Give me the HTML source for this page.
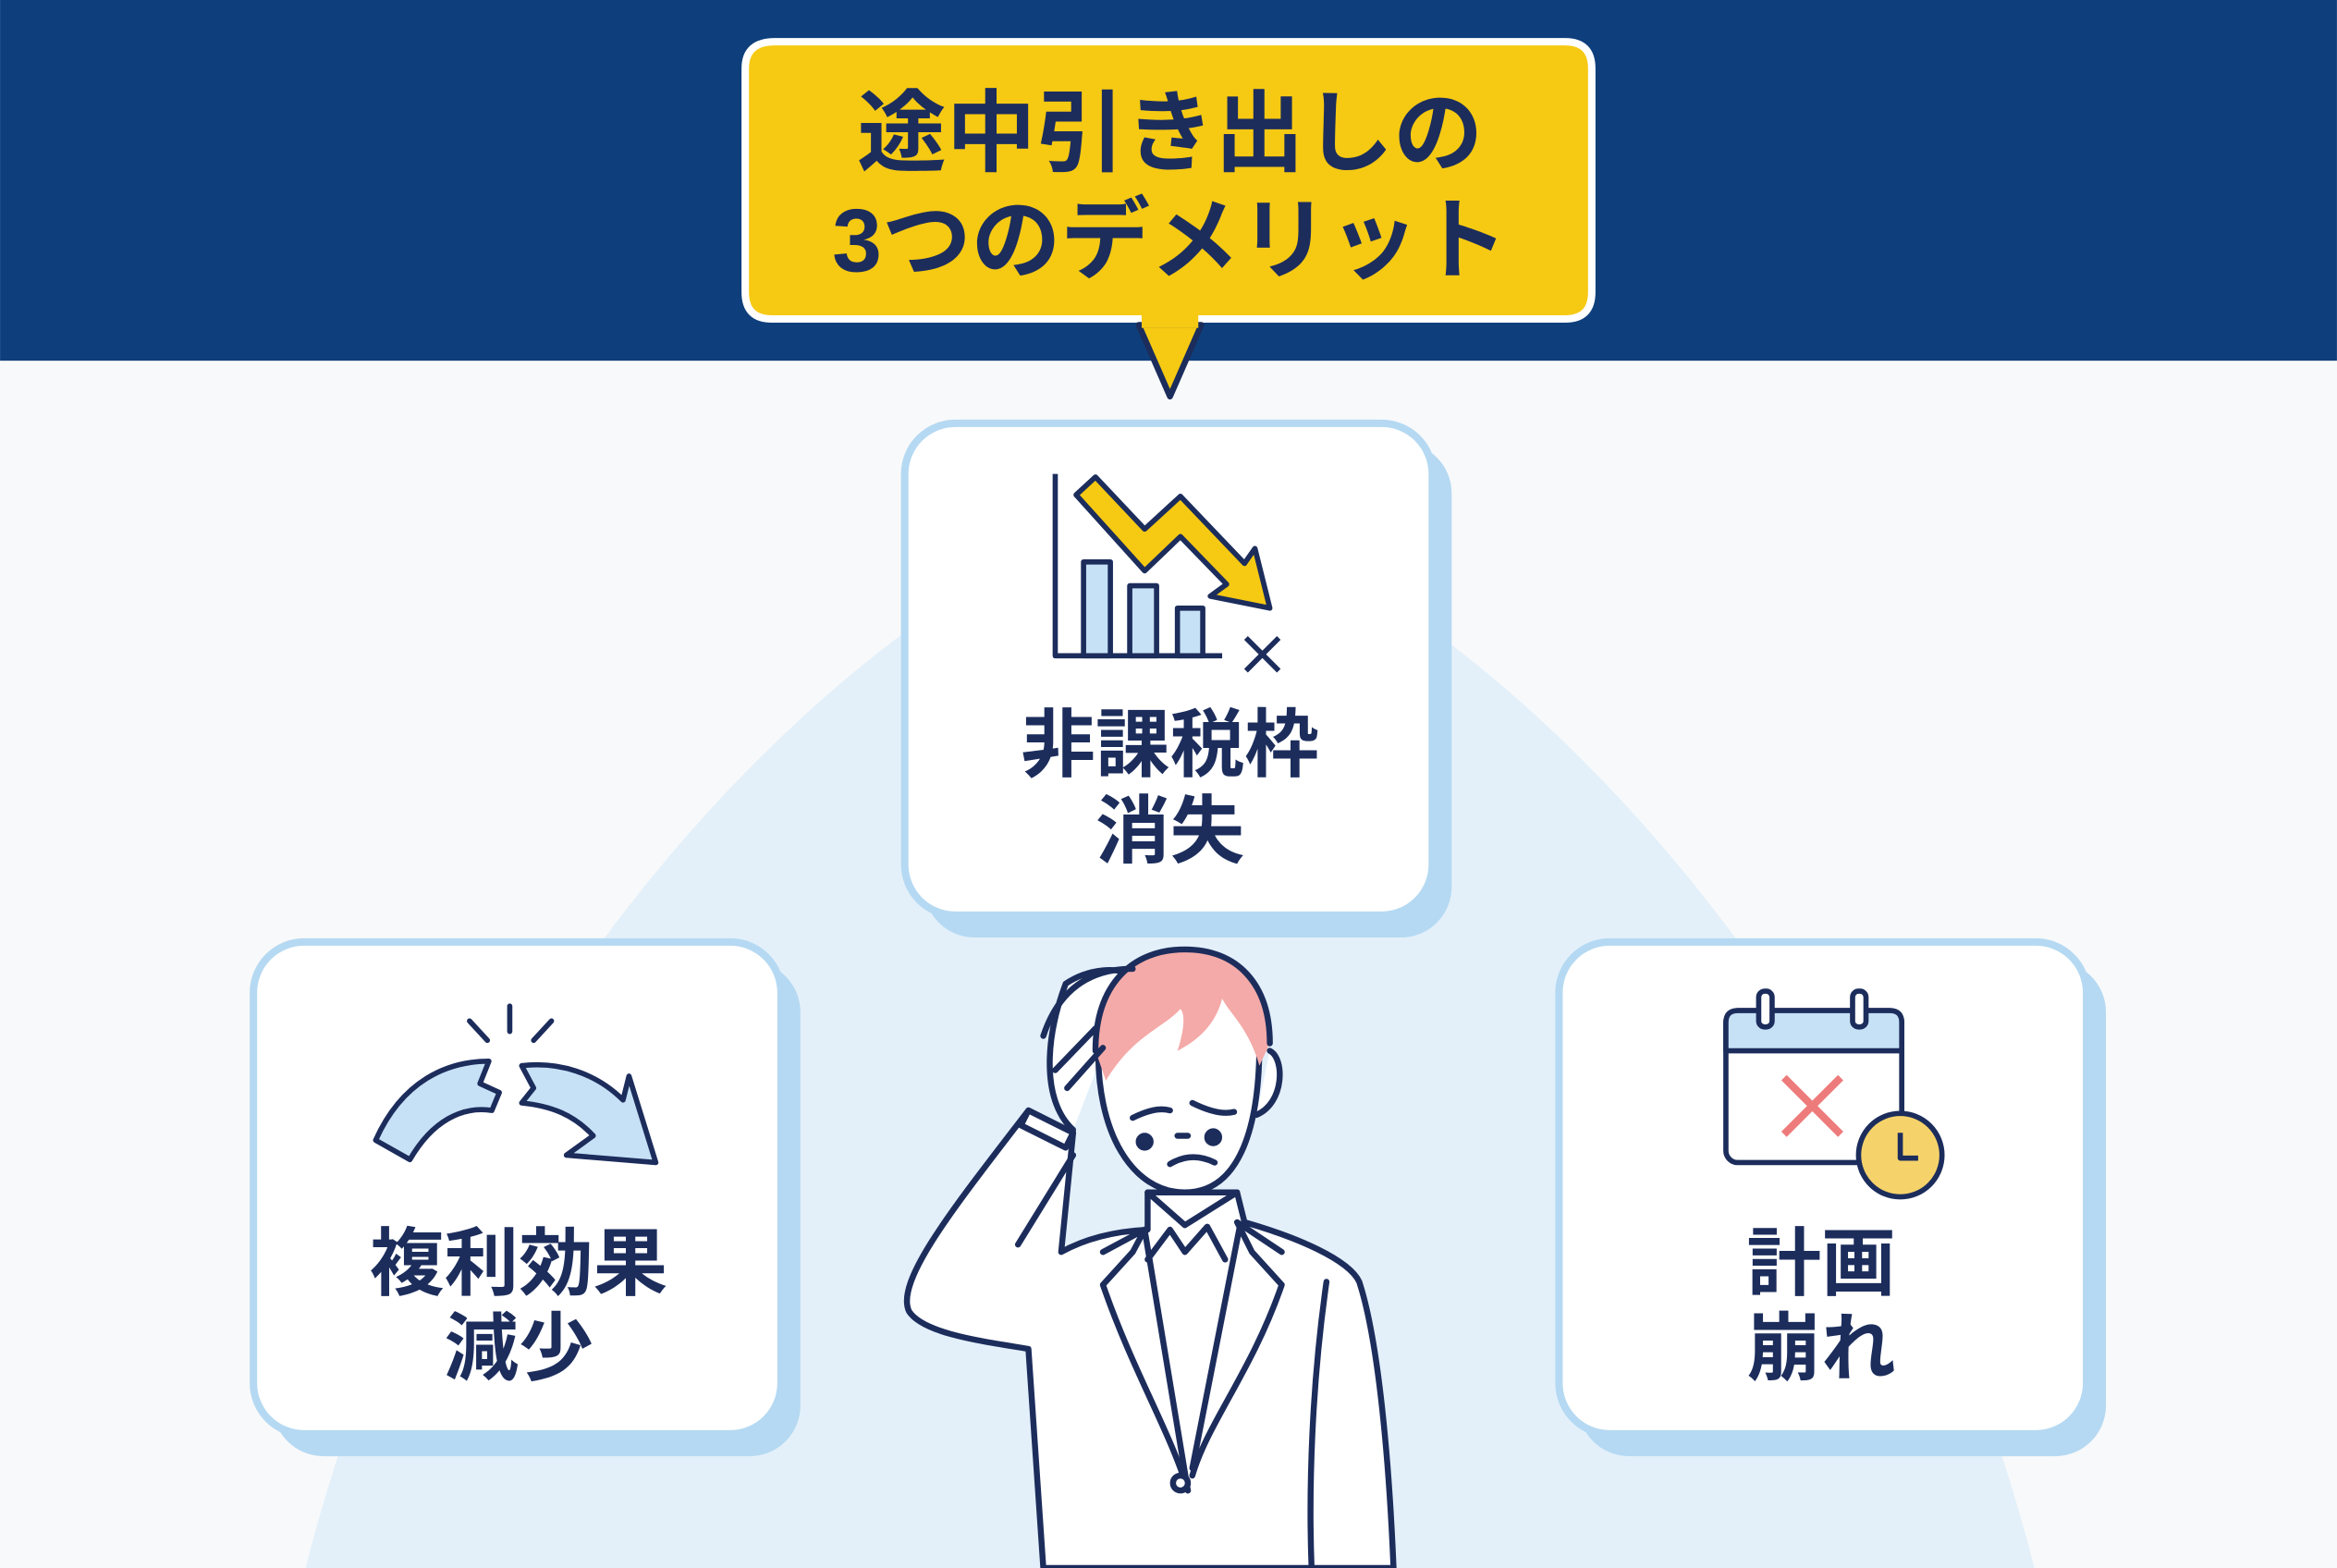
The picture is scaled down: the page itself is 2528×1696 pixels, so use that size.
<!DOCTYPE html>
<html><head><meta charset="utf-8"><style>
html,body{margin:0;padding:0;background:#f8f9fa;}
svg{display:block;}
text{font-family:"Liberation Sans","Noto Sans CJK JP",sans-serif;font-weight:bold;fill:#1c2d5c;text-anchor:middle;}
</style></head><body>
<svg width="2528" height="1696" viewBox="0 0 1568 1052" xmlns="http://www.w3.org/2000/svg">
<rect width="1568" height="1052" fill="#f8f9fa"/>
<path d="M205 1052 C 300 680, 560 400, 785 330 C 1010 400, 1270 680, 1365 1052 Z" fill="#e3f0fa"/>
<rect width="1568" height="242" fill="#0e3f7c"/>
<!-- callout -->
<path d="M520 28 H1050 Q1068 28 1068 46 V196 Q1068 214 1050 214 H805 L785 242 L765 214 H518 Q500 214 500 196 V46 Q500 28 520 28Z" fill="#f6c913" stroke="#ffffff" stroke-width="5"/>
<path d="M764 218 L785 266 L806 218 Z" fill="#f6c913" stroke="#1c2d5c" stroke-width="4" stroke-linejoin="round"/>
<rect x="766" y="208" width="38" height="12" fill="#f6c913"/>
<text x="785" y="110" font-size="60">途中引き出しの</text>
<text x="785" y="182" font-size="60">3つのデメリット</text>
<!-- cards -->
<g>
<rect x="620" y="297" width="354" height="332" rx="34" fill="#b5d9f2"/>
<rect x="607" y="284" width="354" height="330" rx="34" fill="#fff" stroke="#b5d9f2" stroke-width="5"/>
<rect x="183" y="645" width="354" height="332" rx="34" fill="#b5d9f2"/>
<rect x="170" y="632" width="354" height="330" rx="34" fill="#fff" stroke="#b5d9f2" stroke-width="5"/>
<rect x="1059" y="645" width="354" height="332" rx="34" fill="#b5d9f2"/>
<rect x="1046" y="632" width="354" height="330" rx="34" fill="#fff" stroke="#b5d9f2" stroke-width="5"/>
</g>
<text x="785" y="517" font-size="50">非課税枠</text>
<text x="785" y="575" font-size="50">消失</text>
<text x="348" y="865" font-size="50">複利効果</text>
<text x="348" y="922" font-size="50">減少</text>
<text x="1222" y="865" font-size="50">計画</text>
<text x="1222" y="922" font-size="50">崩れ</text>
<!-- top icon -->
<g stroke="#1c2d5c" stroke-width="3.5" fill="#c6e1f6" stroke-linejoin="round">
<path d="M708 318 V440 H820" fill="none"/>
<rect x="727" y="377" width="18" height="63"/>
<rect x="758" y="393" width="18" height="47"/>
<rect x="790" y="408" width="17" height="32"/>
<path d="M836 428 L858 450 M858 428 L836 450" fill="none"/>
<path d="M722 332 L735 320 L768 355 L792 333 L835 378 L842 368 L852 408 L812 400 L823 392 L792 360 L768 383 Z" fill="#f6c913"/>
</g>
<!-- left icon -->
<g stroke="#1c2d5c" stroke-width="3.5" fill="#c6e1f6" stroke-linejoin="round">
<path d="M252 765 C 270 725, 300 712, 328 712 L322 727 L335 733 L330 745 C 310 742, 290 752, 275 778 Z"/>
<path d="M350 715 C 375 712, 400 720, 418 738 L422 722 L440 780 L380 775 L398 762 C 385 748, 370 742, 350 740 L358 730 Z"/>
<path d="M342 675 V692 M315 685 L327 698 M370 685 L358 698" fill="none" stroke-linecap="round"/>
</g>
<!-- right icon -->
<g stroke="#1c2d5c" stroke-width="3.5" stroke-linejoin="round">
<rect x="1158" y="678" width="118" height="102" rx="8" fill="#fff"/>
<path d="M1166 678 H1268 Q1276 678 1276 686 V705 H1158 V686 Q1158 678 1166 678Z" fill="#c6e1f6"/>
<rect x="1180" y="665" width="9" height="24" rx="4" fill="#fff"/>
<rect x="1243" y="665" width="9" height="24" rx="4" fill="#fff"/>
<path d="M1197 723 L1235 761 M1235 723 L1197 761" stroke="#ee7b7b" stroke-width="5" fill="none"/>
<circle cx="1275" cy="775" r="28" fill="#f6d36a"/>
<path d="M1275 760 V777 H1287" fill="none"/>
</g>
<!-- person -->
<g stroke="#1c2d5c" stroke-width="4" stroke-linejoin="round" stroke-linecap="round">
<path d="M700 1052 L690 905 C 660 900, 620 895, 610 880 C 600 860, 640 810, 690 745 L720 760 L712 840 C 730 830, 750 826, 770 825 L770 800 L830 800 L835 820 C 870 830, 905 845, 912 860 C 925 900, 932 980, 935 1052 Z" fill="#fff"/>
<path d="M690 745 L720 760 L715 770 L685 755 Z" fill="#fff"/>
<path d="M720 758 C 700 740, 700 700, 715 660 C 730 650, 750 648, 760 655" fill="#fff"/>
<path d="M737 700 C 735 760, 760 800, 795 800 C 830 800, 845 760, 845 700 C 845 660, 820 640, 792 640 C 760 640, 738 660, 737 700Z" fill="#fff"/>
<path d="M735 705 C 735 660, 760 637, 795 637 C 830 637, 852 660, 852 700 L845 715 C 838 690, 825 680, 820 670 C 815 690, 800 700, 790 705 C 795 690, 795 680, 792 677 C 780 690, 760 695, 742 725 Z" fill="#f4aaa8" stroke="none"/>
<path d="M735 705 C 735 660, 760 637, 795 637 C 830 637, 852 660, 852 700" fill="none"/>
<path d="M852 705 C 862 710, 862 740, 843 748" fill="#fff"/>
<path d="M700 695 C 710 665, 730 650, 760 650 M708 718 L735 690 M716 730 L740 703" fill="none"/>
<circle cx="768" cy="766" r="4" fill="#1c2d5c"/>
<circle cx="814" cy="763" r="4" fill="#1c2d5c"/>
<path d="M760 750 C 770 745, 778 743, 785 745 M800 740 C 810 745, 820 748, 828 746" fill="none"/>
<path d="M785 781 C 795 775, 805 775, 815 780 M790 762 H797" fill="none"/>
<path d="M770 800 L795 822 L830 800" fill="none"/>
<path d="M740 840 L768 825 L760 840 L740 862 C 760 920, 785 960, 797 1000 M860 840 L830 820 L840 840 L860 862 C 840 920, 810 955, 800 990" fill="none"/>
<path d="M768 825 L797 1000 M832 822 L800 985" fill="none"/>
<path d="M770 845 L785 825 L795 840 L810 823 L822 845" fill="none"/>
<path d="M683 835 L720 775 M890 860 C 880 930, 878 1000, 880 1052" fill="none"/>
<circle cx="792" cy="995" r="5" fill="#fff"/>
</g>
</svg>
</body></html>
